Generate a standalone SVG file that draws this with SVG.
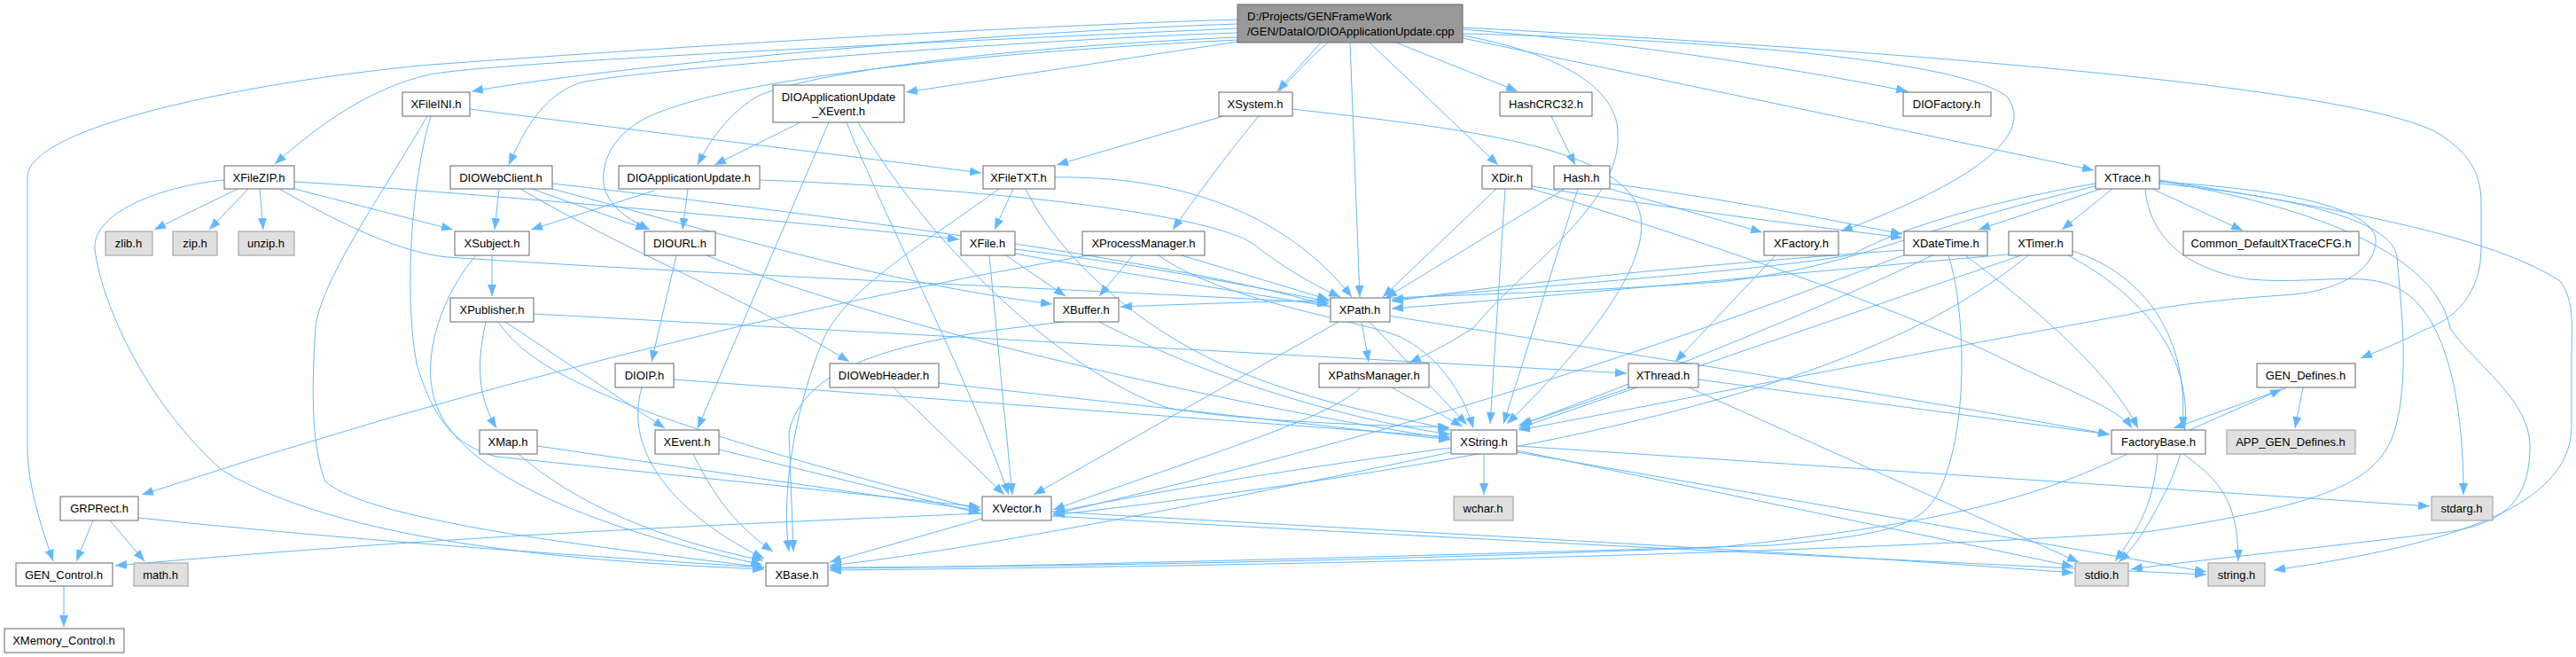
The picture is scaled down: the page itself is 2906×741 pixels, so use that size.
<svg xmlns="http://www.w3.org/2000/svg" width="2906" height="741" viewBox="0 0 2906 741">
<style>
.n rect{fill:#fff;stroke:#666;stroke-width:1}
.g rect{fill:#e0e0e0;stroke:#999;stroke-width:1}
.r rect{fill:#999;stroke:#666;stroke-width:1}
text{font-family:"Liberation Sans",Arial,sans-serif;font-size:13px;fill:#000}
.c text{text-anchor:middle}
#edges path{fill:none;stroke:#63b8ff;stroke-width:1;marker-end:url(#a)}
</style>
<defs>
<marker id="a" markerWidth="14" markerHeight="10" refX="13" refY="5" orient="auto" markerUnits="userSpaceOnUse"><path d="M0,0 L13,5 L0,10 z" fill="#63b8ff"/></marker>
</defs>
<rect width="2906" height="741" fill="#fff"/>
<g id="edges">
<path d="M1396,27 C1150,35 720,70 532,103"/>
<path d="M1396,32 C1000,50 560,70 485,84 C420,98 360,140 310,185"/>
<path d="M1396,22 C1000,35 600,65 485,73 C300,90 31,140 31,200 L31,505 C31,545 45,590 60,633"/>
<path d="M1396,37 C1150,45 700,80 652,94 C610,110 590,150 574,186"/>
<path d="M1396,42 C1100,55 900,85 852,110 C820,130 800,160 787,186"/>
<path d="M1396,45 C1000,65 790,100 725,135 C680,160 675,200 685,220 C695,240 715,250 733,259"/>
<path d="M1396,47 L1022,104"/>
<path d="M1490,48 L1441,103"/>
<path d="M1523,48 L1534,335"/>
<path d="M1545,48 L1690,186"/>
<path d="M1575,48 L1712,103"/>
<path d="M1498,48 C1460,80 1400,150 1323,259"/>
<path d="M1650,33 C1800,45 2000,72 2152,103"/>
<path d="M1650,43 L2362,192"/>
<path d="M1650,38 C1950,45 2220,70 2265,110 C2300,160 2200,215 2077,261"/>
<path d="M1650,31 C2100,55 2650,95 2750,150 C2790,175 2799,200 2799,230 L2799,280 C2799,330 2770,360 2735,372 C2710,385 2685,395 2663,404"/>
<path d="M1650,40 C1760,60 1825,100 1825,150 C1830,230 1720,300 1662,370 C1630,390 1610,400 1590,409"/>
<path d="M530,123 C700,145 950,175 1107,195"/>
<path d="M482,131 C430,220 360,320 356,370 C352,430 350,500 367,543 C420,590 700,620 862,640"/>
<path d="M486,131 C465,200 455,330 470,410 C490,480 520,505 560,515 C800,540 1000,560 1106,572"/>
<path d="M268,213 L174,259"/>
<path d="M280,213 L236,259"/>
<path d="M293,213 L297,259"/>
<path d="M253,203 C180,210 105,240 107,280 C110,320 150,440 250,530 C400,620 700,635 862,642"/>
<path d="M332,205 C500,215 900,250 1082,270"/>
<path d="M332,213 L511,259"/>
<path d="M315,213 C380,250 450,285 505,290 C800,310 1300,330 1499,342"/>
<path d="M563,213 L558,259"/>
<path d="M600,213 L730,259"/>
<path d="M587,213 C700,280 850,340 958,408"/>
<path d="M623,207 C1000,250 1350,300 1499,345"/>
<path d="M623,213 C800,260 1000,320 1187,343"/>
<path d="M738,215 L599,259"/>
<path d="M776,213 L770,259"/>
<path d="M857,203 C1100,212 1380,240 1420,280 C1460,310 1490,325 1512,335"/>
<path d="M903,138 L806,186"/>
<path d="M935,138 L787,483"/>
<path d="M955,138 C1000,250 1090,420 1138,558"/>
<path d="M968,138 C1050,280 1200,420 1317,460 C1400,475 1550,480 1635,482"/>
<path d="M1380,131 L1192,186"/>
<path d="M1458,123 C1650,145 1830,165 1850,240 C1865,300 1780,400 1700,478"/>
<path d="M1750,131 L1777,186"/>
<path d="M1143,213 L1122,259"/>
<path d="M1127,213 C1050,270 960,320 930,380 C900,450 880,550 890,622"/>
<path d="M1157,213 C1200,300 1300,380 1400,420 C1500,460 1580,470 1636,485"/>
<path d="M1190,200 C1330,198 1450,240 1525,335"/>
<path d="M1135,288 L1202,334"/>
<path d="M1116,288 L1142,558"/>
<path d="M1145,281 C1300,300 1420,325 1499,340"/>
<path d="M1145,286 C1500,350 2000,420 2380,490"/>
<path d="M1278,288 L1240,334"/>
<path d="M1333,288 L1499,338"/>
<path d="M1307,288 C1380,340 1530,360 1580,380 C1620,400 1650,440 1662,483"/>
<path d="M1227,288 Q700,380 160,558"/>
<path d="M2003,288 L1890,408"/>
<path d="M2148,282 C1900,300 1700,320 1570,340"/>
<path d="M2180,288 C2050,350 1850,430 1713,480"/>
<path d="M2150,287 C1950,360 1700,460 1188,580"/>
<path d="M2198,288 C2215,340 2220,450 2200,520 C2180,590 2160,600 2000,615 C1500,630 1100,640 936,641"/>
<path d="M2217,288 C2300,350 2380,420 2412,483"/>
<path d="M2266,287 C2000,310 1800,330 1570,348"/>
<path d="M2280,288 L1713,483"/>
<path d="M2288,288 C2150,400 1900,500 1188,581"/>
<path d="M2338,283 C2420,310 2470,380 2462,483"/>
<path d="M2333,288 C2450,350 2500,450 2440,560 C2420,600 2405,620 2390,634"/>
<path d="M2370,213 L2232,259"/>
<path d="M2383,213 L2326,259"/>
<path d="M2428,213 L2530,260"/>
<path d="M2364,207 C2200,235 2120,270 2090,287 C2000,305 1700,325 1570,338"/>
<path d="M2436,205 C2600,215 2685,240 2680,275 C2675,310 2630,328 2588,332 C2500,338 2440,345 2400,355 C2100,410 1850,460 1713,485"/>
<path d="M2420,213 C2425,270 2470,305 2538,315 C2620,322 2680,300 2720,335 C2760,370 2779,450 2779,558"/>
<path d="M2436,203 C2600,230 2800,260 2888,317 C2905,340 2901,370 2901,400 L2901,480 C2901,560 2800,610 2565,643"/>
<path d="M2436,204 C2650,240 2750,300 2764,370 C2790,410 2854,450 2854,503 C2854,560 2830,590 2760,600 C2600,620 2450,635 2404,642"/>
<path d="M2436,207 C2620,225 2700,255 2704,290 C2708,340 2720,430 2700,490 C2680,545 2620,570 2421,600 C2000,628 1300,640 936,643"/>
<path d="M2364,210 C2150,260 2100,300 1940,318 C1700,335 1400,340 1264,346"/>
<path d="M1840,437 L1715,479"/>
<path d="M1916,428 L2380,490"/>
<path d="M1905,437 L2345,634"/>
<path d="M1674,512 L1674,558"/>
<path d="M1637,505 C1450,530 1300,555 1188,578"/>
<path d="M1637,510 C1400,560 1100,620 936,638"/>
<path d="M1711,503 L2741,571"/>
<path d="M1711,508 L2339,639"/>
<path d="M1711,510 L2489,645"/>
<path d="M1108,585 L936,634"/>
<path d="M1108,579 C800,592 500,605 130,638"/>
<path d="M1186,577 C1500,595 2000,620 2339,646"/>
<path d="M1186,582 C1600,605 2100,630 2489,648"/>
<path d="M1545,363 L1655,479"/>
<path d="M1510,363 L1166,558"/>
<path d="M1536,363 L1544,408"/>
<path d="M1570,437 L1650,481"/>
<path d="M1535,437 C1500,470 1400,500 1188,575"/>
<path d="M1200,363 C1050,380 910,400 890,487 L895,622"/>
<path d="M1240,363 C1350,420 1500,470 1636,490"/>
<path d="M555,288 L555,334"/>
<path d="M537,288 C500,330 475,400 490,450 C520,560 780,620 860,637"/>
<path d="M548,363 C540,400 535,440 560,483"/>
<path d="M570,363 L750,483"/>
<path d="M562,363 C600,420 700,470 1106,575"/>
<path d="M602,354 L1835,421"/>
<path d="M585,512 C650,570 750,610 861,632"/>
<path d="M606,503 L1106,576"/>
<path d="M782,512 C810,570 840,600 872,622"/>
<path d="M811,507 L1106,579"/>
<path d="M763,288 L735,408"/>
<path d="M797,288 C1000,370 1400,460 1636,495"/>
<path d="M724,437 C700,520 780,590 862,630"/>
<path d="M760,428 L1636,493"/>
<path d="M1059,432 L1636,496"/>
<path d="M1008,437 L1133,558"/>
<path d="M105,587 L86,633"/>
<path d="M124,587 L163,633"/>
<path d="M156,584 C400,610 700,630 862,640"/>
<path d="M72,661 L72,707"/>
<path d="M1688,213 L1560,335"/>
<path d="M1698,213 L1681,478"/>
<path d="M1728,210 C1850,230 2000,250 2146,268"/>
<path d="M1728,213 C1850,250 2100,330 2250,400 C2330,440 2390,460 2405,483"/>
<path d="M1765,213 L1563,336"/>
<path d="M1780,213 L1696,478"/>
<path d="M1816,213 L1988,262"/>
<path d="M1816,207 C1950,225 2050,245 2146,264"/>
<path d="M2580,437 L2452,483"/>
<path d="M2470,485 L2574,439"/>
<path d="M2598,437 L2589,483"/>
<path d="M2463,512 C2500,540 2525,560 2525,633"/>
<path d="M2434,512 C2430,570 2410,600 2386,633"/>
<path d="M2400,512 C2300,560 2200,590 1940,617 C1500,635 1100,640 936,640"/>
</g>
<g id="root" class="r"><rect x="1396" y="5" width="254" height="43"/><text x="1407" y="23">D:/Projects/GENFrameWork</text><text x="1407" y="40">/GEN/DataIO/DIOApplicationUpdate.cpp</text></g>
<g id="XFileINI" class="n c"><rect x="454" y="104" width="76" height="27"/><text x="492" y="122">XFileINI.h</text></g>
<g id="DIOApplicationUpdate_XEvent" class="n c"><rect x="872" y="96" width="148" height="42"/><text x="946" y="114">DIOApplicationUpdate</text><text x="946" y="130">_XEvent.h</text></g>
<g id="XSystem" class="n c"><rect x="1375" y="104" width="83" height="27"/><text x="1416" y="122">XSystem.h</text></g>
<g id="HashCRC32" class="n c"><rect x="1692" y="104" width="104" height="27"/><text x="1744" y="122">HashCRC32.h</text></g>
<g id="DIOFactory" class="n c"><rect x="2147" y="104" width="99" height="27"/><text x="2196" y="122">DIOFactory.h</text></g>
<g id="XFileZIP" class="n c"><rect x="253" y="187" width="79" height="26"/><text x="292" y="205">XFileZIP.h</text></g>
<g id="DIOWebClient" class="n c"><rect x="508" y="187" width="115" height="26"/><text x="565" y="205">DIOWebClient.h</text></g>
<g id="DIOApplicationUpdate" class="n c"><rect x="698" y="187" width="159" height="26"/><text x="777" y="205">DIOApplicationUpdate.h</text></g>
<g id="XFileTXT" class="n c"><rect x="1109" y="187" width="81" height="26"/><text x="1149" y="205">XFileTXT.h</text></g>
<g id="XDir" class="n c"><rect x="1672" y="187" width="56" height="26"/><text x="1700" y="205">XDir.h</text></g>
<g id="Hash" class="n c"><rect x="1753" y="187" width="63" height="26"/><text x="1784" y="205">Hash.h</text></g>
<g id="XTrace" class="n c"><rect x="2364" y="187" width="72" height="26"/><text x="2400" y="205">XTrace.h</text></g>
<g id="zlib" class="g c"><rect x="119" y="261" width="53" height="27"/><text x="145" y="279">zlib.h</text></g>
<g id="zip" class="g c"><rect x="195" y="261" width="50" height="27"/><text x="220" y="279">zip.h</text></g>
<g id="unzip" class="g c"><rect x="269" y="261" width="63" height="27"/><text x="300" y="279">unzip.h</text></g>
<g id="XSubject" class="n c"><rect x="513" y="261" width="84" height="27"/><text x="555" y="279">XSubject.h</text></g>
<g id="DIOURL" class="n c"><rect x="727" y="261" width="80" height="27"/><text x="767" y="279">DIOURL.h</text></g>
<g id="XFile" class="n c"><rect x="1084" y="261" width="61" height="27"/><text x="1114" y="279">XFile.h</text></g>
<g id="XProcessManager" class="n c"><rect x="1221" y="261" width="138" height="27"/><text x="1290" y="279">XProcessManager.h</text></g>
<g id="XFactory" class="n c"><rect x="1990" y="261" width="84" height="27"/><text x="2032" y="279">XFactory.h</text></g>
<g id="XDateTime" class="n c"><rect x="2148" y="261" width="94" height="27"/><text x="2195" y="279">XDateTime.h</text></g>
<g id="XTimer" class="n c"><rect x="2266" y="261" width="72" height="27"/><text x="2302" y="279">XTimer.h</text></g>
<g id="Common_DefaultXTraceCFG" class="n c"><rect x="2463" y="261" width="198" height="27"/><text x="2562" y="279">Common_DefaultXTraceCFG.h</text></g>
<g id="XPublisher" class="n c"><rect x="508" y="336" width="94" height="27"/><text x="555" y="354">XPublisher.h</text></g>
<g id="XBuffer" class="n c"><rect x="1189" y="336" width="73" height="27"/><text x="1225" y="354">XBuffer.h</text></g>
<g id="XPath" class="n c"><rect x="1501" y="336" width="67" height="27"/><text x="1534" y="354">XPath.h</text></g>
<g id="DIOIP" class="n c"><rect x="694" y="410" width="66" height="27"/><text x="727" y="428">DIOIP.h</text></g>
<g id="DIOWebHeader" class="n c"><rect x="936" y="410" width="123" height="27"/><text x="997" y="428">DIOWebHeader.h</text></g>
<g id="XPathsManager" class="n c"><rect x="1488" y="410" width="124" height="27"/><text x="1550" y="428">XPathsManager.h</text></g>
<g id="XThread" class="n c"><rect x="1837" y="410" width="79" height="27"/><text x="1876" y="428">XThread.h</text></g>
<g id="GEN_Defines" class="n c"><rect x="2546" y="410" width="111" height="27"/><text x="2601" y="428">GEN_Defines.h</text></g>
<g id="XMap" class="n c"><rect x="541" y="485" width="65" height="27"/><text x="573" y="503">XMap.h</text></g>
<g id="XEvent" class="n c"><rect x="739" y="485" width="72" height="27"/><text x="775" y="503">XEvent.h</text></g>
<g id="XString" class="n c"><rect x="1637" y="485" width="74" height="27"/><text x="1674" y="503">XString.h</text></g>
<g id="FactoryBase" class="n c"><rect x="2382" y="485" width="106" height="27"/><text x="2435" y="503">FactoryBase.h</text></g>
<g id="APP_GEN_Defines" class="g c"><rect x="2512" y="485" width="145" height="27"/><text x="2584" y="503">APP_GEN_Defines.h</text></g>
<g id="GRPRect" class="n c"><rect x="68" y="560" width="88" height="27"/><text x="112" y="578">GRPRect.h</text></g>
<g id="XVector" class="n c"><rect x="1108" y="560" width="78" height="27"/><text x="1147" y="578">XVector.h</text></g>
<g id="wchar" class="g c"><rect x="1640" y="560" width="67" height="27"/><text x="1673" y="578">wchar.h</text></g>
<g id="stdarg" class="g c"><rect x="2743" y="560" width="69" height="27"/><text x="2777" y="578">stdarg.h</text></g>
<g id="GEN_Control" class="n c"><rect x="18" y="635" width="109" height="26"/><text x="72" y="653">GEN_Control.h</text></g>
<g id="math" class="g c"><rect x="151" y="635" width="61" height="26"/><text x="181" y="653">math.h</text></g>
<g id="XBase" class="n c"><rect x="864" y="635" width="70" height="26"/><text x="899" y="653">XBase.h</text></g>
<g id="stdio" class="g c"><rect x="2341" y="635" width="60" height="26"/><text x="2371" y="653">stdio.h</text></g>
<g id="string" class="g c"><rect x="2491" y="635" width="64" height="26"/><text x="2523" y="653">string.h</text></g>
<g id="XMemory_Control" class="n c"><rect x="5" y="709" width="135" height="27"/><text x="72" y="727">XMemory_Control.h</text></g>
</svg>
